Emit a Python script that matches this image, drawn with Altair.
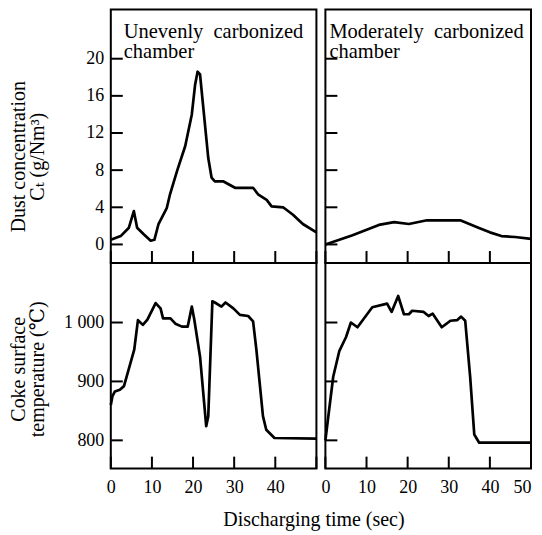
import altair as alt
import pandas as pd

# ---- data ----
uneven_dust_t = [0, 2.4, 4.4, 5.6, 6.4, 8.0, 9.7, 10.6, 11.6, 13.6, 14.4, 16.1, 18.1, 19.7, 20.5,
                 21.1, 21.7, 22.5, 23.7, 24.5, 25.3, 27.3, 30.2, 34.6, 35.8, 37.9, 39.1, 41.9,
                 44.3, 46.7, 50]
uneven_dust_v = [0.5, 0.9, 1.8, 3.6, 1.8, 1.1, 0.4, 0.5, 2.2, 3.9, 5.4, 7.9, 10.6, 14.0, 17.2,
                 18.6, 18.3, 14.7, 9.3, 7.2, 6.8, 6.8, 6.1, 6.1, 5.4, 4.8, 4.1, 4.0,
                 3.2, 2.2, 1.3]

moderate_dust_t = [0, 6.6, 13.0, 16.7, 20.3, 24.7, 28.3, 32.8, 37.2, 40.0, 42.8, 46.1, 50]
moderate_dust_v = [0.0, 1.0, 2.1, 2.4, 2.2, 2.6, 2.6, 2.6, 1.8, 1.3, 0.9, 0.8, 0.6]

uneven_temp_t = [0, 0.4, 1.0, 2.2, 3.2, 5.7, 6.6, 7.8, 8.9, 10.9, 12.1, 12.7, 14.5, 15.7, 17.3,
                 18.7, 19.7, 20.3, 21.7, 23.2, 23.7, 24.7, 25.3, 26.9, 27.9, 29.8, 31.4, 33.4,
                 34.6, 35.4, 37.0, 37.8, 39.8, 50]
uneven_temp_v = [860, 875, 883, 886, 892, 954, 1004, 996, 1005, 1033, 1024, 1007, 1007, 998, 993,
                 993, 1027, 1005, 942, 824, 841, 1036, 1034, 1027, 1034, 1024, 1013, 1011,
                 1002, 954, 841, 818, 804, 803]

moderate_temp_t = [0, 1.0, 1.9, 3.4, 5.0, 6.2, 7.8, 11.4, 15.0, 16.1, 17.7, 19.1, 20.3, 21.1,
                   23.9, 25.1, 26.1, 28.3, 30.4, 32.0, 33.0, 34.0, 35.2, 36.2, 37.4, 50]
moderate_temp_v = [800, 857, 908, 952, 975, 1000, 992, 1026, 1032, 1018, 1045, 1014, 1014, 1020,
                   1018, 1011, 1015, 992, 1003, 1004, 1010, 1003, 908, 810, 796, 796]

dust_ticks = [0, 4, 8, 12, 16, 20]
temp_ticks = [800, 900, 1000]
time_ticks = [0, 10, 20, 30, 40, 50]
left_time_labels = [0, 10, 20, 30, 40]

panel_titles = ["Unevenly\u2002carbonized\nchamber", "Moderately\u2002carbonized\nchamber"]
dust_title = ["Dust concentration", "C\u209c (g/Nm\u00b3)"]
temp_title = ["Coke surface", "temperature (\u2103)"]
x_title = "Discharging time (sec)"

FONT = "Liberation Serif, DejaVu Serif, serif"
W = 206
H_TOP = 254
H_BOT = 206
TICK = 12
DUST_DOMAIN = [-2, 25.3]
TEMP_DOMAIN = [752, 1101]

xscale = alt.Scale(domain=[0, 50], nice=False, zero=False)


def panel(t, v, ydomain, height, yticks, yaxis, xaxis, title=None, title_dx=0):
    yscale = alt.Scale(domain=ydomain, nice=False, zero=False)
    df = pd.DataFrame({"t": t, "v": v})
    line = alt.Chart(df).mark_line(color="black", strokeWidth=2.7, strokeJoin="round").encode(
        x=alt.X("t:Q", scale=xscale, axis=xaxis),
        y=alt.Y("v:Q", scale=yscale, axis=yaxis),
    )
    xt = alt.Chart(pd.DataFrame({"t": time_ticks})).mark_rule(color="black", strokeWidth=2).encode(
        x=alt.X("t:Q", scale=xscale, axis=xaxis),
        y=alt.value(height),
        y2=alt.value(height - TICK),
    )
    yt = alt.Chart(pd.DataFrame({"v": yticks})).mark_rule(color="black", strokeWidth=2).encode(
        y=alt.Y("v:Q", scale=yscale, axis=yaxis),
        x=alt.value(0),
        x2=alt.value(TICK),
    )
    layers = [line, xt, yt]
    if title is not None:
        tt = alt.Chart(pd.DataFrame({"label": [title]})).mark_text(
            align="left", baseline="top", font=FONT, fontSize=20.5,
            lineHeight=20, lineBreak="\n", color="black"
        ).encode(text="label:N", x=alt.value(title_dx), y=alt.value(13))
        layers.append(tt)
    return alt.layer(*layers).properties(width=W, height=height)


common_y = dict(labelFontSize=18, labelPadding=7, minExtent=58, maxExtent=58,
                titlePadding=5, titleFontSize=20, titleLineHeight=19)

tl = panel(uneven_dust_t, uneven_dust_v, DUST_DOMAIN, H_TOP, dust_ticks,
           alt.Axis(values=dust_ticks, title=dust_title, titleY=147, **common_y),
           None, panel_titles[0], 13)
tr = panel(moderate_dust_t, moderate_dust_v, DUST_DOMAIN, H_TOP, dust_ticks,
           None, None, panel_titles[1], 4)
bl = panel(uneven_temp_t, uneven_temp_v, TEMP_DOMAIN, H_BOT, temp_ticks,
           alt.Axis(values=temp_ticks, title=temp_title, titleY=106,
                    labelExpr="datum.value == 1000 ? '1 000' : datum.label", **common_y),
           alt.Axis(values=left_time_labels, title=x_title, labelFontSize=18, labelPadding=10,
                    labelFlush=False, titleX=203, titleY=57, titleBaseline="alphabetic",
                    titleFontSize=20))
br = panel(moderate_temp_t, moderate_temp_v, TEMP_DOMAIN, H_BOT, temp_ticks,
           None,
           alt.Axis(values=time_ticks, title=None, labelFontSize=18, labelPadding=10,
                    labelFlush=False,
                    labelAlign={"expr": "datum.value == 50 ? 'right' : 'center'"}))

chart = alt.concat(tl, tr, bl, br, columns=2, spacing={"row": 0, "column": 9}, bounds="flush").properties(
    padding={"left": 0, "top": 0, "right": 0, "bottom": 0}
).configure_view(
    stroke="black", strokeWidth=2
).configure_axis(
    domain=False, ticks=False, grid=False, labelFont=FONT, titleFont=FONT,
    labelColor="black", titleColor="black", titleFontWeight="normal"
)

chart.save("out.html", embed_options={"renderer": "svg", "actions": False})
